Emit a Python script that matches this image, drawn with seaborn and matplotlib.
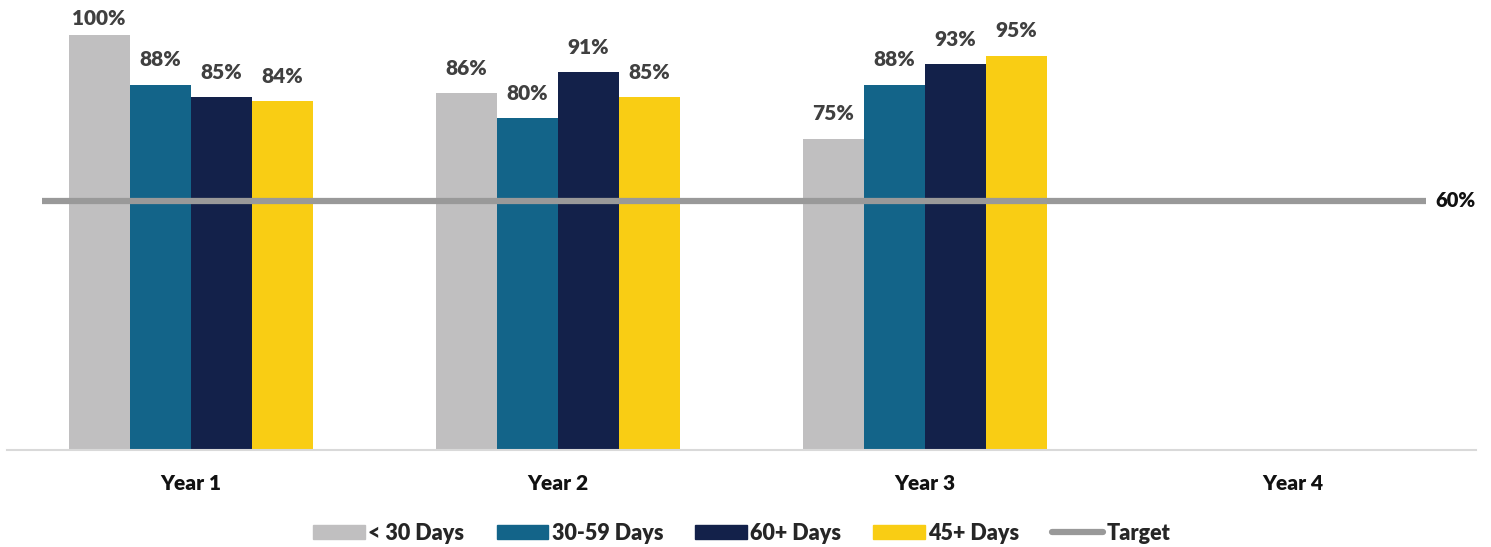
import matplotlib
matplotlib.use("Agg")
import matplotlib.pyplot as plt
import matplotlib.patches as mpatches
import matplotlib.lines as mlines
import pandas as pd
import seaborn as sns

# ---------------------------------------------------------------------------
# data
# ---------------------------------------------------------------------------
years = ["Year 1", "Year 2", "Year 3", "Year 4"]
series = ["< 30 Days", "30-59 Days", "60+ Days", "45+ Days"]
under_30 = [100, 86, 75]
days_30_59 = [88, 80, 88]
days_60_plus = [85, 91, 93]
days_45_plus = [84, 85, 95]
target = 60

colors = ["#C0BFC0", "#136489", "#13214A", "#F9CD14"]
target_color = "#999999"

rows = []
for name, vals in zip(series, [under_30, days_30_59, days_60_plus, days_45_plus]):
    for yr, v in zip(years, vals):
        rows.append({"year": yr, "series": name, "value": v})
df = pd.DataFrame(rows)

# ---------------------------------------------------------------------------
# plot
# ---------------------------------------------------------------------------
sns.set_style("white")
plt.rcParams["font.family"] = ["Lato", "DejaVu Sans"]
plt.rcParams["font.weight"] = "heavy"
W = "heavy"

fig = plt.figure(figsize=(14.91, 5.47), dpi=100)
ax = fig.add_axes([7 / 1491, 97 / 547, 1469 / 1491, 445 / 547])

sns.barplot(
    data=df, x="year", y="value", hue="series",
    order=years, hue_order=series, palette=colors,
    width=0.665, gap=0, linewidth=0, saturation=1,
    errorbar=None, legend=False, ax=ax,
)

for cont in ax.containers:
    labels = ax.bar_label(cont, fmt="{:.0f}%", padding=11, fontsize=15,
                          fontweight=W, color="#404040")
    # keep labels of the tallest bars inside the chart area
    for bar, lab in zip(cont, labels):
        if bar.get_height() > 97:
            lab.xyann = (0, 5)

# target line
ax.plot([-0.405, 3.365], [target, target], color=target_color, lw=4.5,
        solid_capstyle="butt", zorder=1)
ax.text(3.39, target, f"{target}%", va="center", ha="left",
        fontsize=14.5, fontweight=W, color="#111111")

ax.set_xlim(-0.5, 3.5)
ax.set_ylim(0, 107.2)
ax.set_xlabel("")
ax.set_ylabel("")
ax.set_yticks([])
ax.tick_params(axis="x", length=0, pad=17, labelsize=15)
for lbl in ax.get_xticklabels():
    lbl.set_fontweight(W)
    lbl.set_color("#111111")

for side in ["top", "left", "right"]:
    ax.spines[side].set_visible(False)
ax.spines["bottom"].set_color("#D9D9D9")
ax.spines["bottom"].set_linewidth(1.5)

# legend
handles = [mpatches.Patch(color=c, label=s) for c, s in zip(colors, series)]
handles.append(mlines.Line2D([], [], color=target_color, lw=4.5, label="Target"))
fig.legend(
    handles=handles, loc="center", bbox_to_anchor=(742 / 1491, 1 - 533 / 547),
    ncol=5, frameon=False, prop={"size": 15.5, "weight": W},
    handlelength=2.4, handleheight=0.6, handletextpad=0.15, columnspacing=1.5,
)

fig.savefig("out.png", dpi=100)
plt.close(fig)
